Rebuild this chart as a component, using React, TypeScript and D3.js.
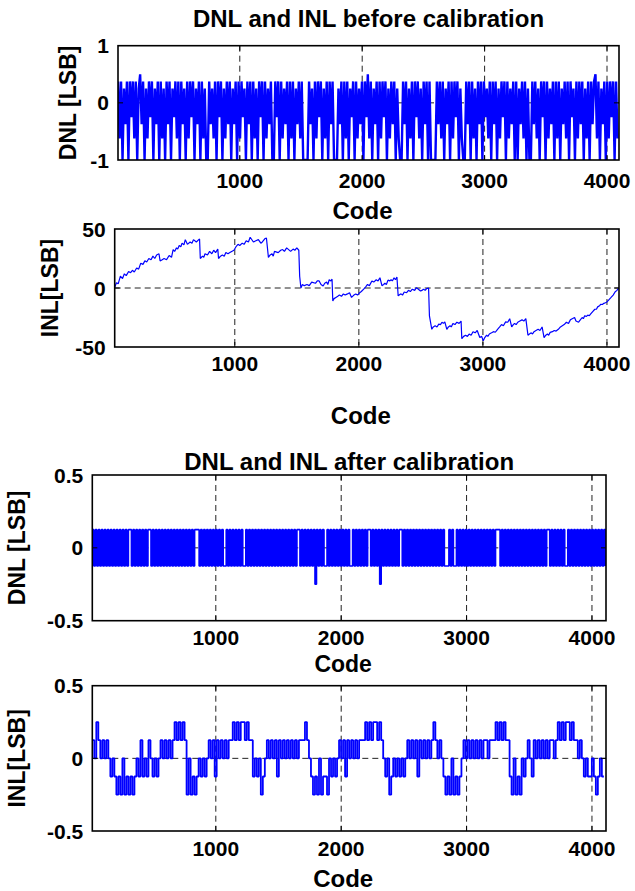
import React from 'react';
import * as d3 from 'd3';

// tick values
const codeTicks = [1000, 2000, 3000, 4000];
const dnlBeforeTicks = [-1, 0, 1];
const inlBeforeTicks = [-50, 0, 50];
const afterTicks = [-0.5, 0, 0.5];

// DNL before calibration, in 1/8 LSB, one reading every 12 codes starting at code 6
const dnlBeforeStart = 6;
const dnlBeforeStep = 12;
const dnlBeforeEighths = [
  3, -5, 3, -8, 2, -3, 3, -8, 3, -2, 3, -5, 3, -8, 2, 4, -3, 3, -8, 2,
  -5, 3, -2, 3, -8, 2, -3, 3, -8, 3, -5, 2, -8, 3, -3, 3, -8, 2, -2, 3,
  -5, 3, -8, 3, -3, 2, -8, 3, -5, 3, -2, 3, -8, 2, -3, 3, -8, 3, -5, 2,
  -8, -8, 3, -3, 2, -5, 3, -8, 3, -2, 3, -8, 2, -5, 3, -3, 3, -8, 2, -3,
  3, -8, 3, -5, 3, -2, 2, -8, 3, -3, 3, -8, 3, -5, 2, -8, 3, -2, 3, -8,
  3, -5, 2, -3, 3, -8, -8, 3, -2, 3, -8, 3, -5, 2, -3, 3, -8, 3, -5, 3,
  -8, 2, -3, 3, -5, 3, -8, -8, -8, -8, 3, -3, 2, -8, 3, -5, 3, -2, 3, -8,
  2, -5, 3, -8, 3, -3, 3, -8, -8, -8, 2, -3, 3, -8, 3, -5, 3, -8, 2, -2,
  3, -8, 3, -5, 2, -3, 3, -8, 3, -2, 4, -5, 3, -8, 2, -3, 3, -8, 3, -5,
  3, -2, 3, -8, 2, -5, 3, -3, 3, -8, 2, -5, -8, -8, 3, -3, 3, -8, 2, -5,
  3, -8, 3, -2, 3, -5, 2, -8, 3, -3, 3, -8, 3, -8, -8, -8, -8, 3, -3, 3,
  -5, 3, -8, 2, -3, 3, -8, 3, -5, 3, -2, 3, -8, 2, -5, -8, -8, 3, -3, 3,
  -8, 3, -5, 2, -8, 3, -3, 3, -8, 3, -2, 2, -5, 3, -8, 3, -3, 3, -8, 2,
  -5, 3, -2, 3, -8, 3, -5, 2, -3, 3, -8, 3, -8, 2, -3, 3, -5, 3, -8, 2,
  -8, -8, 3, -3, 3, -5, 2, -8, 3, -2, 3, -8, 3, -5, 2, -3, 3, -8, 3, -5,
  3, -8, 2, -3, 3, -5, 3, -8, 3, -2, 2, -8, 3, -5, 3, -3, 3, -8, 2, -5,
  3, -8, 3, -3, 3, 4, -5, 3, -8, 2, -3, 3, -8, 3, -5, 3, -2, 3, -8, 3,
  -5,
];

// INL before calibration, [code, LSB]
const inlBefore: [number, number][] = [
  [30, 0], [46, 4.5], [60, 3.5], [78, 10], [95, 8], [110, 12], [125, 10.5], [144, 14], [160, 13], [175, 15],
  [190, 13.5], [209, 17], [225, 16], [242, 21], [260, 20], [275, 23], [290, 22], [307, 25], [325, 24], [340, 27],
  [355, 25], [370, 28], [389, 29], [398, 23], [415, 24], [430, 25], [450, 24], [471, 27.5], [490, 26], [503, 32.6],
  [515, 31], [530, 34], [540, 33], [552, 36], [565, 35], [575, 38], [590, 36.5], [601, 41], [618, 37], [640, 39],
  [655, 38], [667, 41], [690, 39], [716, 41.6], [722, 25], [740, 27], [750, 26], [760, 29], [780, 28], [797, 31],
  [815, 29], [830, 32], [845, 30], [863, 33], [869, 25], [885, 27], [900, 28], [915, 27], [928, 30], [945, 29],
  [960, 30], [975, 31], [993, 32], [1010, 35], [1026, 37], [1040, 36], [1060, 38], [1075, 37], [1092, 40], [1110, 39],
  [1124, 43], [1150, 39], [1170, 40], [1190, 41], [1210, 38], [1222, 39], [1245, 42], [1255, 42.4], [1271, 26], [1285, 28],
  [1300, 29], [1310, 27], [1320, 31], [1350, 30], [1370, 32], [1386, 32.6], [1400, 31], [1418, 34], [1450, 31], [1470, 33],
  [1484, 32], [1500, 34], [1516, 32], [1523, 10], [1533, 0], [1545, 3], [1560, 2], [1582, 3], [1600, 2], [1620, 5],
  [1650, 4], [1665, 6], [1680, 6], [1695, 3], [1712, 1.7], [1725, 4], [1740, 5], [1750, 3], [1761, 7], [1775, 6],
  [1784, 7.5], [1790, -11], [1800, -9], [1815, -8], [1830, -7], [1843, -6], [1860, -7], [1875, -5], [1890, -6], [1908, -5],
  [1925, -4], [1941, -8], [1960, -6], [1975, -5], [1990, -6], [2007, -4], [2020, -3], [2039, -1], [2055, 1], [2070, 3],
  [2085, 2], [2105, 6], [2120, 5], [2140, 7], [2155, 6], [2170, 8.7], [2186, 2], [2200, 3], [2210, 4], [2222, 3],
  [2235, 6.7], [2250, 6], [2260, 7], [2270, 6], [2284, 8.7], [2295, 7], [2307, 9.3], [2317, -6.7], [2330, -5.5], [2340, -5],
  [2352, -6], [2366, -3.4], [2385, -4], [2400, -2], [2415, -3], [2431, -1], [2450, -2], [2464, 0.3], [2480, -1], [2497, -2.5],
  [2510, -2], [2520, -1], [2535, -2], [2546, -0.5], [2562, 0], [2569, -23.6], [2588, -35], [2600, -33], [2615, -32], [2630, -33],
  [2644, -30.6], [2658, -31], [2670, -29], [2682, -30], [2693, -28.7], [2709, -35], [2722, -33], [2735, -32], [2745, -33], [2758, -30],
  [2775, -31], [2790, -29], [2808, -30], [2824, -28], [2830, -43], [2845, -41], [2860, -40], [2875, -41], [2889, -39], [2905, -40],
  [2920, -37], [2938, -38], [2954, -36], [2975, -42], [2990, -41], [3003, -44.7], [3015, -42], [3030, -40], [3040, -41], [3052, -39],
  [3070, -38], [3085, -37], [3100, -37.5], [3118, -35], [3135, -33], [3150, -31], [3165, -32], [3183, -28.7], [3200, -29], [3216, -26],
  [3232, -33], [3245, -31], [3255, -30], [3268, -31], [3281, -29], [3298, -28], [3315, -27], [3330, -28], [3346, -26], [3363, -40],
  [3375, -39], [3390, -38], [3400, -39], [3412, -37], [3428, -36], [3445, -35], [3460, -36], [3477, -33], [3493, -42], [3507, -40],
  [3520, -39], [3530, -40], [3542, -37.6], [3560, -37], [3575, -36], [3590, -36.5], [3608, -35], [3625, -33], [3640, -32], [3655, -31],
  [3673, -29], [3690, -30], [3705, -27], [3720, -26], [3739, -25], [3750, -28], [3771, -29], [3785, -27], [3800, -25], [3810, -26],
  [3820, -23.6], [3835, -24], [3845, -23], [3858, -23.5], [3869, -22], [3885, -20], [3902, -18], [3915, -18], [3925, -16], [3940, -15],
  [3951, -13.8], [3963, -14], [3975, -13], [3988, -12.5], [4000, -11.8], [4015, -10], [4033, -8], [4050, -6], [4065, -3.4], [4080, -2],
  [4095, 0],
];

// DNL after calibration, in 1/8 LSB, one reading every 12 codes starting at code 15
const dnlAfterStart = 15;
const dnlAfterStep = 12;
const dnlAfterEighths = [
  1, -1, 1, -1, 1, -1, 1, -1, 1, -1, 1, -1, 1, -1, 1, -1, 1, -1, 1, -1,
  1, -1, 1, -1, 1, 1, -1, 1, -1, 1, -1, 1, -1, 1, -1, 1, -1, 1, 1, -1,
  1, -1, 1, -1, 1, -1, 1, -1, 1, -1, 1, -1, 1, -1, 1, -1, 1, -1, 1, -1,
  1, -1, 1, -1, 1, -1, 1, -1, 1, 1, 1, -1, 1, -1, 1, -1, 1, -1, 1, -1,
  1, -1, 1, -1, 1, -1, 1, -1, -1, 1, -1, 1, -1, 1, -1, 1, -1, 1, -1, 1,
  -1, -1, 1, -1, 1, -1, 1, -1, 1, -1, 1, -1, 1, -1, 1, -1, 1, -1, 1, -1,
  1, -1, 1, -1, 1, -1, 1, -1, 1, -1, 1, -1, 1, -1, 1, -1, 1, 1, -1, 1,
  -1, 1, -1, 1, -1, 1, -1, 1, -2, 1, -1, 1, -1, 1, -1, -1, 1, -1, 1, -1,
  1, -1, 1, -1, 1, -1, 1, -1, 1, -1, 1, -1, -1, 1, -1, 1, -1, 1, -1, 1,
  -1, 1, -1, 1, 1, -1, 1, -1, 1, -1, 1, -2, 1, -1, 1, -1, 1, -1, 1, -1,
  1, -1, 1, -1, 1, 1, -1, 1, -1, 1, -1, 1, -1, 1, -1, 1, -1, 1, -1, 1,
  -1, 1, -1, 1, -1, 1, -1, 1, -1, 1, -1, 1, -1, 1, -1, -1, -1, 1, -1, 1,
  -1, -1, 1, -1, 1, -1, 1, -1, 1, -1, 1, -1, 1, -1, 1, -1, 1, -1, 1, -1,
  1, -1, 1, -1, 1, -1, 1, -1, 1, 1, 1, -1, 1, -1, 1, -1, 1, -1, 1, -1,
  1, -1, 1, -1, 1, -1, 1, -1, 1, -1, 1, -1, 1, -1, 1, -1, 1, -1, 1, -1,
  1, -1, 1, 1, -1, 1, -1, 1, -1, 1, -1, 1, -1, 1, -1, -1, 1, -1, 1, -1,
  1, -1, 1, -1, 1, -1, 1, -1, 1, -1, 1, -1, 1, -1, 1, -1, 1, -1, 1, -1,
  1, -1,
];

// INL after calibration, in 1/8 LSB, one reading every 16 codes starting at code 15
const inlAfterStart = 15;
const inlAfterStep = 16;
const inlAfterEighths = [
  1, 0, 2, 1, 0, 1, 0, 1, 0, -1, 0, -1, -2, -1, -2, 0, -2, -1, -2, -1,
  -2, -1, 0, -1, 1, -1, 0, -1, 1, 0, -1, 0, -1, 0, 1, 0, 1, 0, 1, 0,
  1, 2, 1, 2, 1, 2, 1, -2, 0, -2, -1, -2, -1, 0, -1, 0, -1, 0, 1, 0,
  1, -1, 1, 0, 1, 0, 1, 0, 1, 1, 2, 1, 2, 1, 2, 2, 1, 2, 1, 1,
  -1, 0, -1, 0, -2, -1, 0, 1, 0, 1, 0, 1, -1, 1, 0, 1, 0, 1, 0, 1,
  0, 1, 0, 1, 1, 1, 2, 1, 0, -1, -2, -1, -2, 0, -2, -1, -1, -2, 0, -1,
  0, -1, 0, 1, 0, 1, -1, 1, 0, 1, 0, 1, 0, 1, 1, 1, 2, 1, 2, 1,
  2, 2, 1, 2, 1, 0, -1, 0, -2, -1, 0, -1, 0, -1, 0, -1, 0, 1, 0, 1,
  0, 1, -1, 1, 0, 1, 0, 1, 0, 1, 2, 1, 0, 1, 0, -1, -2, -1, -2, 0,
  -2, -1, -2, -1, 0, 1, 0, 1, 0, 1, 0, 1, 0, 1, 0, 1, 1, 0, 1, 1,
  1, 2, 1, 2, 1, 2, 1, 1, -1, -2, 0, -2, -1, -2, 0, -1, 0, 1, 0, -1,
  1, 0, 1, 0, 1, 0, 1, 0, 1, 1, 0, 1, 2, 1, 2, 1, 2, 2, 1, 2,
  1, 1, 0, 1, 0, -1, 0, -1, -1, 0, -1, -2, -1, 0, -1, -1,
];

type Pt = [number, number];

const sampled = (start: number, step: number, vals: number[]): Pt[] =>
  vals.map((v, i) => [start + i * step, v / 8]);

const FONT = '"Liberation Sans", Arial, Helvetica, sans-serif';

type PanelProps = {
  id: string;
  l: number; r: number; t: number; b: number;
  xDomain: [number, number];
  yDomain: [number, number];
  yTicks: number[];
  data: Pt[];
  curve: d3.CurveFactory;
  strokeWidth: number;
  title?: string;
  titleY?: number;
  yLabel: string;
  yLabelX: number;
  tickLabelY: number;
  codeY: number;
  codeSize?: number;
};

function Panel(p: PanelProps) {
  const x = d3.scaleLinear().domain(p.xDomain).range([p.l, p.r]);
  const y = d3.scaleLinear().domain(p.yDomain).range([p.b, p.t]);
  const line = d3.line<Pt>().x(d => x(d[0])).y(d => y(d[1])).curve(p.curve);
  const cx = (p.l + p.r) / 2;
  const cy = (p.t + p.b) / 2;
  const innerY = p.yTicks.filter(t => t !== p.yDomain[0] && t !== p.yDomain[1]);
  return (
    <g fontFamily={FONT} fontWeight="bold">
      <defs>
        <clipPath id={p.id}>
          <rect x={p.l} y={p.t} width={p.r - p.l} height={p.b - p.t} />
        </clipPath>
      </defs>
      {/* grid */}
      {codeTicks.map(t => (
        <line key={'gx' + t} x1={x(t)} x2={x(t)} y1={p.t} y2={p.b}
          stroke="#222" strokeWidth={1} strokeDasharray="6,4" />
      ))}
      {innerY.map(t => (
        <line key={'gy' + t} x1={p.l} x2={p.r} y1={y(t)} y2={y(t)}
          stroke="#222" strokeWidth={1} strokeDasharray="6,4" />
      ))}
      <path d={line(p.data) || ''} fill="none" stroke="#0000ff"
        strokeWidth={p.strokeWidth} strokeLinejoin="miter" strokeMiterlimit={1}
        clipPath={`url(#${p.id})`} />
      {/* ticks */}
      {codeTicks.map(t => (
        <g key={'tx' + t}>
          <line x1={x(t)} x2={x(t)} y1={p.b} y2={p.b - 5} stroke="#000" />
          <line x1={x(t)} x2={x(t)} y1={p.t} y2={p.t + 5} stroke="#000" />
        </g>
      ))}
      {innerY.map(t => (
        <g key={'ty' + t}>
          <line x1={p.l} x2={p.l + 5} y1={y(t)} y2={y(t)} stroke="#000" />
          <line x1={p.r} x2={p.r - 5} y1={y(t)} y2={y(t)} stroke="#000" />
        </g>
      ))}
      <rect x={p.l} y={p.t} width={p.r - p.l} height={p.b - p.t}
        fill="none" stroke="#000" strokeWidth={1.6} />
      {/* labels */}
      {codeTicks.map(t => (
        <text key={'lx' + t} x={x(t)} y={p.tickLabelY} textAnchor="middle" fontSize={21}>{t}</text>
      ))}
      {p.yTicks.map(t => (
        <text key={'ly' + t} x={p.l - 9} y={y(t) + 7.5} textAnchor="end" fontSize={21}>{t}</text>
      ))}
      <text x={cx - 6} y={p.codeY} textAnchor="middle" fontSize={p.codeSize ?? 24}>Code</text>
      <text transform={`translate(${p.yLabelX},${cy}) rotate(-90)`} textAnchor="middle"
        dominantBaseline="central" fontSize={23}>{p.yLabel}</text>
      {p.title && (
        <text x={cx} y={p.titleY} textAnchor="middle" fontSize={24}>{p.title}</text>
      )}
    </g>
  );
}

export default function App() {
  const dnlB = sampled(dnlBeforeStart, dnlBeforeStep, dnlBeforeEighths);
  const dnlA = sampled(dnlAfterStart, dnlAfterStep, dnlAfterEighths);
  const inlA = sampled(inlAfterStart, inlAfterStep, inlAfterEighths);
  return (
    <svg width={635} height={891} style={{ position: 'absolute', left: 0, top: 0, background: '#fff' }}>
      <rect width={635} height={891} fill="#fff" />
      <Panel id="c1" l={118} r={619} t={45.7} b={160} xDomain={[5, 4098]} yDomain={[-1, 1]}
        yTicks={dnlBeforeTicks} data={dnlB} curve={d3.curveLinear} strokeWidth={2.4}
        title="DNL and INL before calibration" titleY={27} yLabel="DNL [LSB]" yLabelX={68}
        tickLabelY={188} codeY={219} />
      <Panel id="c2" l={114.7} r={619} t={229} b={347} xDomain={[32, 4097]} yDomain={[-50, 50]}
        yTicks={inlBeforeTicks} data={inlBefore} curve={d3.curveLinear} strokeWidth={1.2}
        yLabel="INL[LSB]" yLabelX={50} tickLabelY={371} codeY={424} />
      <Panel id="c3" l={92.3} r={606} t={475} b={620.7} xDomain={[15, 4112]} yDomain={[-0.5, 0.5]}
        yTicks={afterTicks} data={dnlA} curve={d3.curveStepAfter} strokeWidth={1.6}
        title="DNL and INL after calibration" titleY={470} yLabel="DNL  [LSB]" yLabelX={17}
        tickLabelY={645} codeY={672} codeSize={23} />
      <Panel id="c4" l={92.3} r={606} t={685.7} b={831} xDomain={[15, 4112]} yDomain={[-0.5, 0.5]}
        yTicks={afterTicks} data={inlA} curve={d3.curveStepAfter} strokeWidth={1.8}
        yLabel="INL[LSB]" yLabelX={17} tickLabelY={856} codeY={887} />
    </svg>
  );
}
